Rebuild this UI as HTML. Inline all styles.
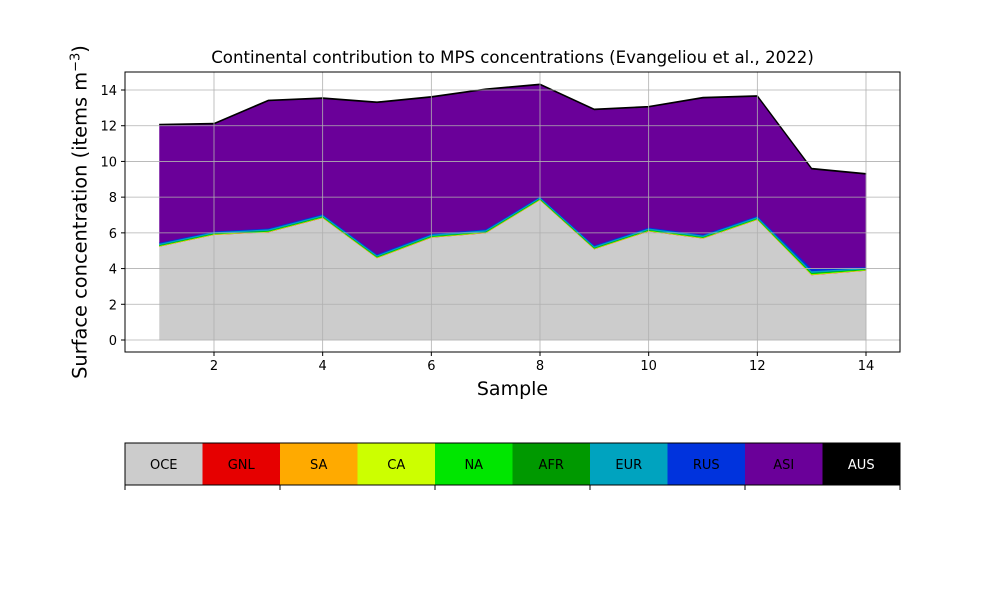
<!DOCTYPE html>
<html><head><meta charset="utf-8"><style>
body{margin:0;background:#fff;}
svg{display:block;font-family:"DejaVu Sans","Liberation Sans",sans-serif;}
</style></head><body>
<svg id="c" width="1000" height="600"></svg>
<script>
const samples=[1,2,3,4,5,6,7,8,9,10,11,12,13,14];
const oce=[5.25,5.9,6.05,6.85,4.6,5.75,6.0,7.85,5.1,6.1,5.7,6.75,3.65,3.9];
const gnl=[0.005,0.005,0.005,0.005,0.005,0.005,0.005,0.005,0.005,0.005,0.005,0.005,0.005,0.005];
const sa=[0.01,0.01,0.01,0.01,0.01,0.01,0.01,0.01,0.01,0.01,0.01,0.01,0.01,0.01];
const ca=[0.02,0.02,0.02,0.02,0.02,0.02,0.02,0.02,0.02,0.02,0.02,0.02,0.03,0.02];
const na=[0.03,0.03,0.03,0.03,0.03,0.03,0.03,0.03,0.03,0.03,0.03,0.03,0.05,0.03];
const afr=[0.02,0.02,0.02,0.02,0.02,0.02,0.02,0.02,0.02,0.02,0.02,0.02,0.03,0.02];
const eur=[0.08,0.07,0.08,0.08,0.08,0.08,0.08,0.07,0.08,0.08,0.08,0.08,0.1,0.06];
const rus=[0.05,0.04,0.05,0.05,0.05,0.05,0.05,0.04,0.05,0.05,0.05,0.05,0.15,0.05];
const asi=[6.58,6.0,7.13,6.46,8.48,7.63,7.81,6.25,7.58,6.73,7.64,6.68,5.55,5.19];
const aus=[0.04,0.04,0.04,0.04,0.04,0.04,0.04,0.04,0.04,0.04,0.04,0.04,0.04,0.04];
const seriesNames=["OCE","GNL","SA","CA","NA","AFR","EUR","RUS","ASI","AUS"];
const seriesColors=["#cccccc","#e60000","#ffaa00","#ccff00","#00e600","#009900","#00a3bf","#0033dd","#6a0099","#000000"];
const xTicks=[2,4,6,8,10,12,14];
const yTicks=[0,2,4,6,8,10,12,14];
const series=[oce,gnl,sa,ca,na,afr,eur,rus,asi,aus];

const NS="http://www.w3.org/2000/svg";
const svg=document.getElementById('c');
const L=125,R=900,T=72,B=352;
const X=v=>214+(v-2)*(866-214)/12;
const Y=v=>340-v*(340-90)/14;
function el(tag,attrs,parent){const e=document.createElementNS(NS,tag);for(const k in attrs)e.setAttribute(k,attrs[k]);(parent||svg).appendChild(e);return e;}

let base=samples.map(()=>0);
series.forEach((s,i)=>{
  const top=base.map((b,j)=>b+s[j]);
  let d="M"+samples.map((x,j)=>X(x)+","+Y(top[j])).join("L");
  for(let j=samples.length-1;j>=0;j--)d+="L"+X(samples[j])+","+Y(base[j]);
  d+="Z";
  const p=el('path',{d:d,fill:seriesColors[i],stroke:seriesColors[i],'stroke-width':i===9?1:0.8});
  
  
  base=top;
});
xTicks.forEach(v=>{const g=el('line',{x1:X(v),x2:X(v),y1:T,y2:B,stroke:'#b0b0b0','stroke-width':0.8});
});
yTicks.forEach(v=>{const g=el('line',{x1:L,x2:R,y1:Y(v),y2:Y(v),stroke:'#b0b0b0','stroke-width':0.8});
});
const fr=el('rect',{x:L,y:T,width:R-L,height:B-T,fill:'none',stroke:'#000','stroke-width':1});

xTicks.forEach(v=>{el('line',{x1:X(v),x2:X(v),y1:B,y2:B+4,stroke:'#000'});
const t=el('text',{x:X(v),y:B+18,'text-anchor':'middle','font-size':13});t.textContent=v;
});
yTicks.forEach(v=>{el('line',{x1:L-4,x2:L,y1:Y(v),y2:Y(v),stroke:'#000'});
const t=el('text',{x:L-8,y:Y(v)+5,'text-anchor':'end','font-size':13});t.textContent=v;
});
const cw=(R-L)/seriesNames.length;
seriesNames.forEach((n,i)=>{
  const r=el('rect',{x:L+i*cw,y:443,width:cw+0.5,height:42,fill:seriesColors[i]});
  
  const t=el('text',{x:L+i*cw+cw/2,y:469,'text-anchor':'middle','font-size':13,fill:i===9?'#fff':'#000'});t.textContent=n;
  
});
el('rect',{x:L,y:443,width:R-L,height:42,fill:'none',stroke:'#000','stroke-width':1});
for(let i=0;i<=10;i+=2)el('line',{x1:L+i*cw,x2:L+i*cw,y1:485,y2:490,stroke:'#000'});
</script>
<div style="position:absolute;left:0;top:0;width:1000px;height:600px;pointer-events:none;font-family:'DejaVu Sans','Liberation Sans',sans-serif;">
<div style="position:absolute;left:100px;width:825px;top:48px;text-align:center;font-size:16.6px;">Continental contribution to MPS concentrations (Evangeliou et al., 2022)</div>
<div style="position:absolute;left:125px;width:775px;top:378px;text-align:center;font-size:19px;">Sample</div>
<div style="position:absolute;left:80px;top:212px;width:0;height:0;"><div style="position:absolute;transform:translate(-50%,-50%) rotate(-90deg);white-space:nowrap;font-size:19.4px;">Surface concentration (items m<sup style="font-size:13px">−3</sup>)</div></div>
</div>
</body></html>
